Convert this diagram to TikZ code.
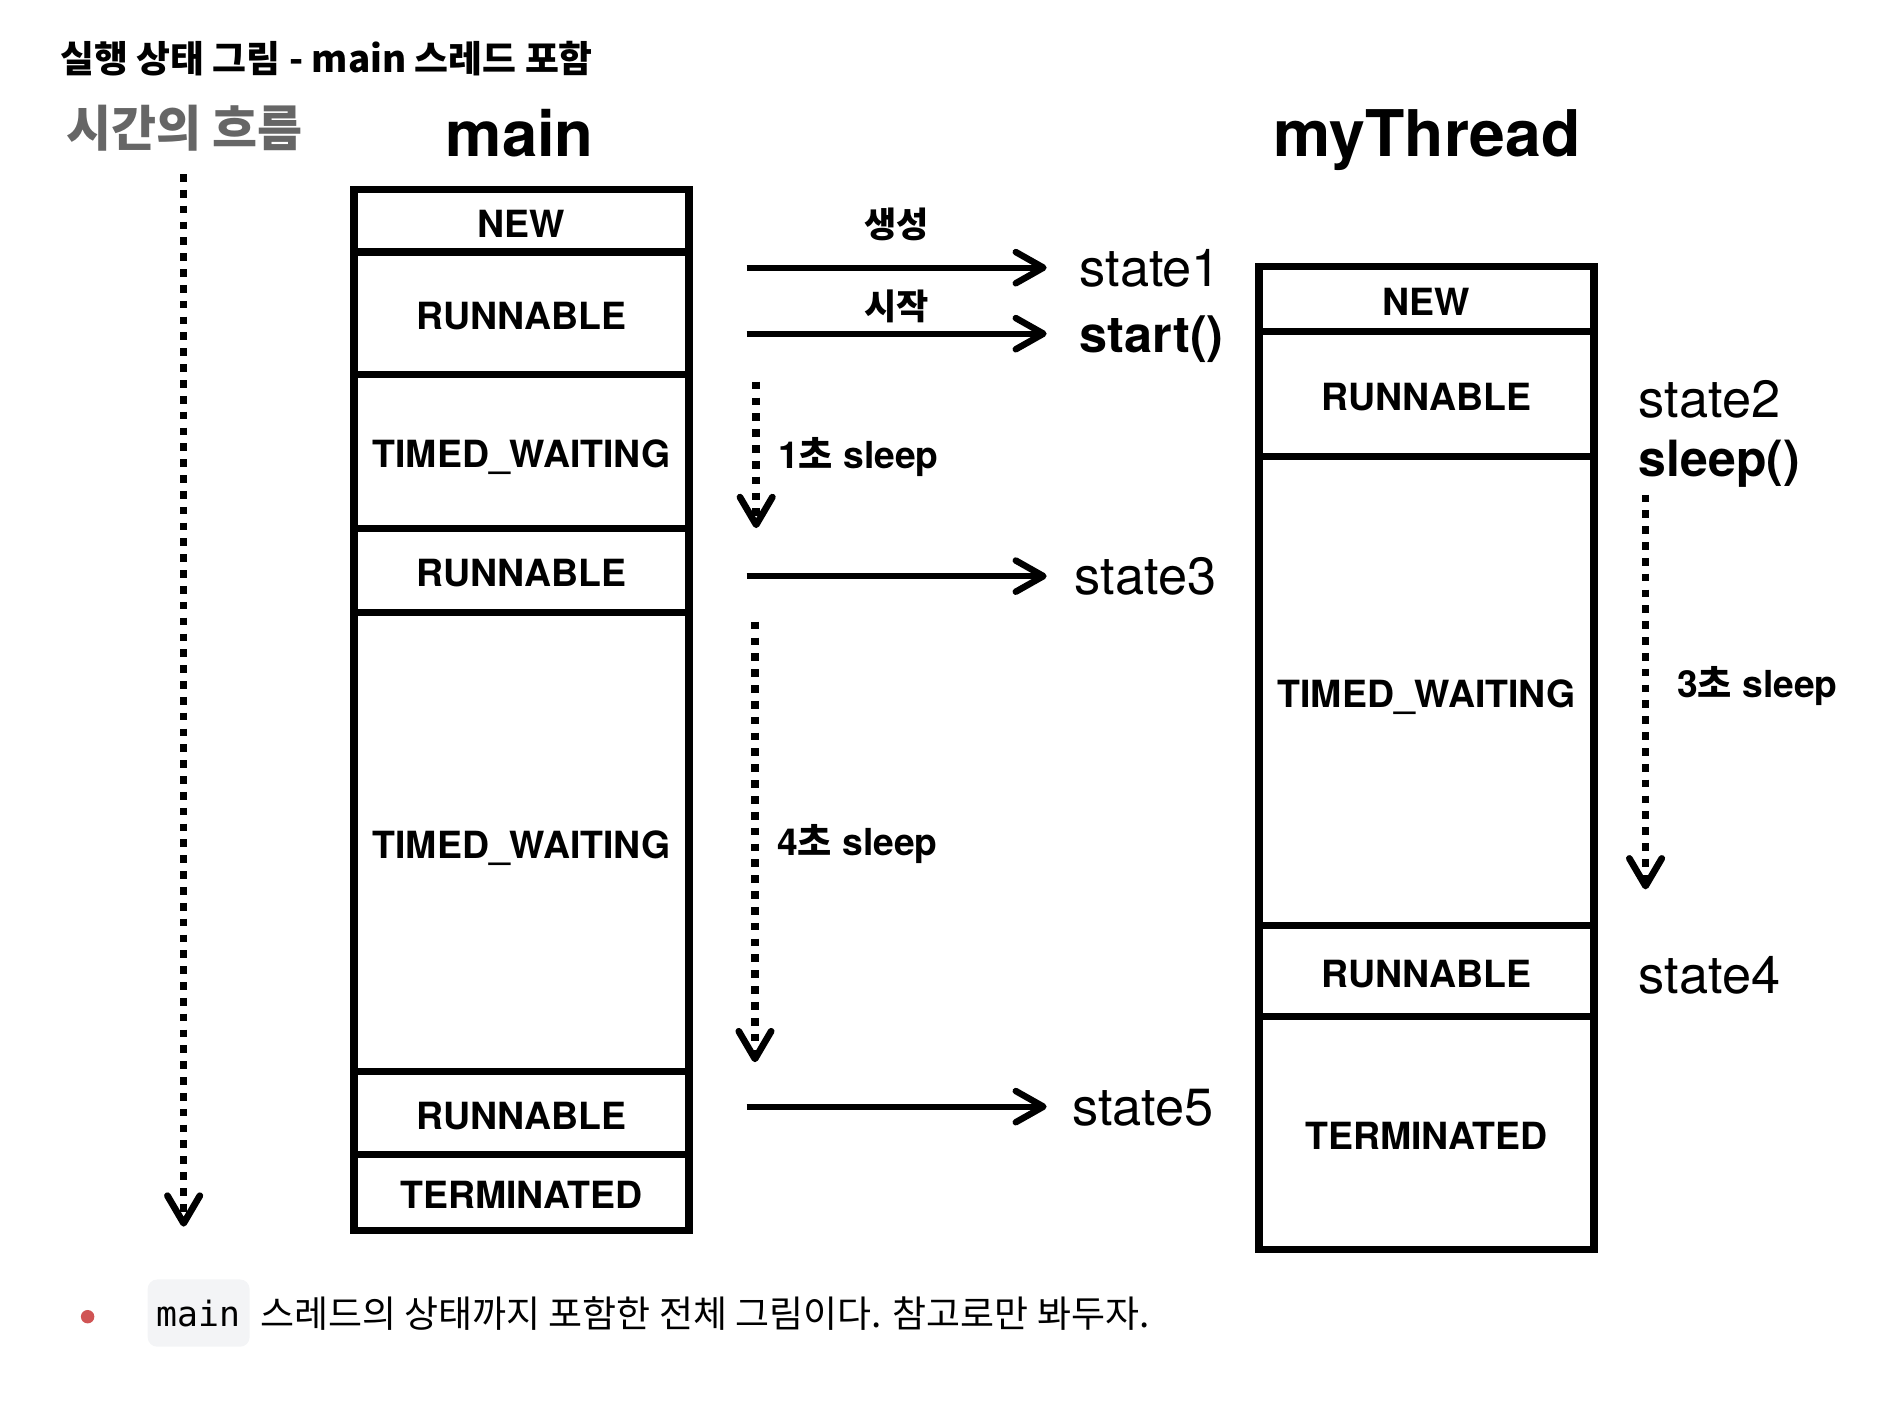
\documentclass[tikz,border=0pt]{standalone}
\usepackage{fontspec}
\setmainfont{TeX Gyre Heros}
\newfontfamily\krfont{Noto Sans CJK KR}
\newfontfamily\codefont{DejaVu Sans Mono}
\usetikzlibrary{positioning,arrows.meta}
\definecolor{flowgray}{RGB}{102,102,102}
\definecolor{bulletred}{RGB}{208,84,84}
\definecolor{codebg}{RGB}{243,244,246}

\begin{document}
\begin{tikzpicture}[x=0.5pt, y=-0.5pt,
    cell/.style={draw, line width=3pt, outer sep=0pt, inner sep=0pt, minimum width=139.5pt,
        text height=13.7pt, text depth=0pt, font=\bfseries\fontsize{15.6pt}{18pt}\selectfont},
    call/.style={-{Straight Barb[round,length=11.5pt,width=13pt,line width=2.7pt]}, line width=2.5pt},
    wait/.style={-{Straight Barb[round,length=11.5pt,width=13.5pt,line width=2.8pt]}, line width=3.2pt, dash pattern=on 3.2pt off 3.4pt},
    statelbl/.style={inner sep=0pt, text height=15.6pt, text depth=0pt, font=\fontsize{21.8pt}{25pt}\selectfont},
    sleeplbl/.style={inner sep=0pt, anchor=west, text height=11pt, text depth=0pt, font=\bfseries\fontsize{15.5pt}{18pt}\selectfont},
    krlbl/.style={inner sep=0pt, font=\krfont\bfseries\fontsize{14.6pt}{17pt}\selectfont}
]
    \useasboundingbox (0,0) rectangle (1568,1178);

    % Titles
    \node[anchor=base west, inner sep=0pt, font=\krfont\bfseries\fontsize{15.35pt}{18pt}\selectfont] (title) at (50,60) {실행 상태 그림 - main 스레드 포함};
    \node[anchor=base, inner sep=0pt, text=flowgray, font=\krfont\bfseries\fontsize{20.4pt}{24pt}\selectfont] (flow) at (153.5,122) {시간의 흐름};
    \node[anchor=base, inner sep=0pt, font=\bfseries\fontsize{26.4pt}{30pt}\selectfont] (mainHead) at (433,130) {main};
    \node[anchor=base, inner sep=0pt, font=\bfseries\fontsize{26.8pt}{30pt}\selectfont] (threadHead) at (1189,130) {myThread};

    % Time axis
    \coordinate (flowTop) at (153,145);
    \coordinate (flowEnd) at (153,1022);
    \draw[wait] (flowTop) -- (flowEnd);

    % main thread states
    \node[cell, minimum height=26pt] (mNew) at (434.5,184) {NEW};
    \node[cell, minimum height=51pt, below=0pt of mNew] (mRun1) {RUNNABLE};
    \node[cell, minimum height=64pt, below=0pt of mRun1] (mWait1) {TIMED\_WAITING};
    \node[cell, minimum height=35pt, below=0pt of mWait1] (mRun2) {RUNNABLE};
    \node[cell, minimum height=191.5pt, below=0pt of mRun2] (mWait2) {TIMED\_WAITING};
    \node[cell, minimum height=34.5pt, below=0pt of mWait2] (mRun3) {RUNNABLE};
    \node[cell, minimum height=31.5pt, below=0pt of mRun3] (mTerm) {TERMINATED};

    % myThread states
    \node[cell, minimum height=27pt] (tNew) at (1188.5,249) {NEW};
    \node[cell, minimum height=52pt, below=0pt of tNew] (tRun1) {RUNNABLE};
    \node[cell, minimum height=195.5pt, below=0pt of tRun1] (tWait) {TIMED\_WAITING};
    \node[cell, minimum height=38pt, below=0pt of tWait] (tRun2) {RUNNABLE};
    \node[cell, minimum height=97pt, below=0pt of tRun2] (tTerm) {TERMINATED};

    % calls from main
    \coordinate (c1) at (622,223);
    \coordinate (e1) at (872,223);
    \coordinate (c2) at (622,278);
    \coordinate (e2) at (872,278);
    \coordinate (c3) at (622,480);
    \coordinate (e3) at (872,480);
    \coordinate (c5) at (622,922);
    \coordinate (e5) at (872,922);

    \draw[call] (c1) -- (e1);
    \draw[call] (c2) -- (e2);
    \draw[call] (c3) -- (e3);
    \draw[call] (c5) -- (e5);

    \node[krlbl] (create) at (747,187) {생성};
    \node[krlbl] (begin) at (747,255) {시작};

    \node[statelbl, right=13.5pt of e1] (state1) {state1};
    \node[statelbl, right=13.5pt of e2, font=\bfseries\fontsize{21pt}{25pt}\selectfont] (startCall) {start()};
    \node[statelbl, right=11.5pt of e3] (state3) {state3};
    \node[statelbl, right=10.5pt of e5] (state5) {state5};

    \node[statelbl, anchor=west] (state2) at (1365,332) {state2};
    \node[statelbl, anchor=west, font=\bfseries\fontsize{20.8pt}{25pt}\selectfont] (sleepCall) at (1365,381) {sleep()};
    \node[statelbl, anchor=west] (state4) at (1365,812) {state4};

    % sleeps
    \coordinate (s1Top) at (630,318);
    \coordinate (s1End) at (630,440);
    \coordinate (s4Top) at (629,518);
    \coordinate (s4End) at (629,885);
    \coordinate (s3Top) at (1371,412);
    \coordinate (s3End) at (1371,741);

    \draw[wait] (s1Top) -- (s1End);
    \draw[wait] (s4Top) -- (s4End);
    \draw[wait] (s3Top) -- (s3End);

    \node[sleeplbl] (sleep1) at (648,379) {1{\krfont\bfseries 초} sleep};
    \node[sleeplbl] (sleep4) at (647,702) {4{\krfont\bfseries 초} sleep};
    \node[sleeplbl] (sleep3) at (1397,570) {3{\krfont\bfseries 초} sleep};

    % note below
    \fill[bulletred] (73,1097) circle (2.8pt);
    \node[fill=codebg, rounded corners=4pt, inner sep=0pt, minimum width=42.5pt, minimum height=28pt,
        font=\codefont\fontsize{14.5pt}{17pt}\selectfont] (code) at (165.5,1094) {main};
    \node[right=4pt of code, inner sep=0pt, font=\krfont\fontsize{15.4pt}{18pt}\selectfont] (note) {스레드의 상태까지 포함한 전체 그림이다. 참고로만 봐두자.};
\end{tikzpicture}
\end{document}
